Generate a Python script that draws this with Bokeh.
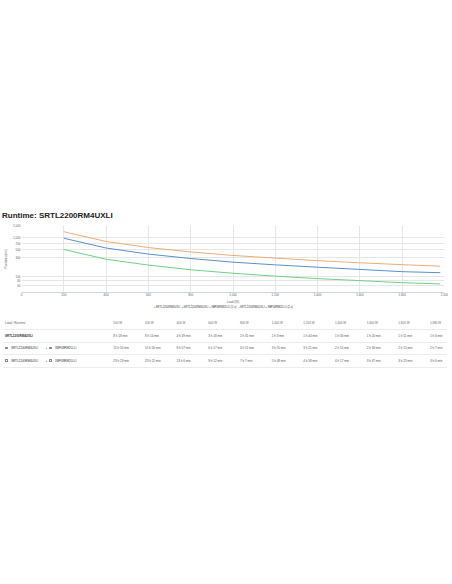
from bokeh.plotting import figure
from bokeh.layouts import column
from bokeh.models import (Range1d, FixedTicker, NumeralTickFormatter,
                          ColumnDataSource, Div)
from bokeh.embed import file_html
from bokeh.resources import INLINE

# ---------------- data ----------------
title_text = "Runtime: SRTL2200RM4UXLI"
loads = [100, 200, 400, 600, 800, 1000, 1200, 1400, 1600, 1800, 1980]
series_names = ["SRTL2200RM4UXLI",
                "SRTL2200RM4UXLI + XBP48RM2U-LI (1 x)",
                "SRTL2200RM4UXLI + XBP48RM2U-LI (2 x)"]
ups_name = "SRTL2200RM4UXLI"
battery_name = "XBP48RM2U-LI"
runtime_ups = [498, 494, 279, 198, 151, 123, 104, 90, 80, 71, 66]
runtime_1xbp = [950, 950, 537, 377, 291, 235, 201, 175, 154, 135, 127]
runtime_2xbp = [1403, 1392, 786, 552, 427, 348, 298, 257, 227, 203, 186]
colors = ["#6fd184", "#5b8fcc", "#f0aa78"]
y_ticks = [60, 80, 100, 300, 500, 700, 1000, 2000]
x_ticks = [0, 200, 400, 600, 800, 1000, 1200, 1400, 1600, 1800, 2000]
x_label = "Load (W)"
y_label = "Runtime (min)"
table_header = "Load / Runtime"

FONT = "Liberation Sans"
series = [runtime_ups, runtime_1xbp, runtime_2xbp]


def fmt_runtime(m):
    return f"{m // 60} h {m % 60} min"


def fmt_load(w):
    return f"{w:,} W"


W = 448
P_TOP, P_BOTTOM = 222, 306          # page rows occupied by the chart figure
F_LEFT, F_RIGHT, F_TOP, F_BOTTOM = 19, 444, 225, 293

# ---------------- title (HTML) ----------------
title_div = Div(
    text=(f'<div style="position:relative;width:{W}px;height:{P_TOP}px">'
          f'<span style="position:absolute;left:2px;top:{215.5 - 5:.1f}px;line-height:10px;'
          f'white-space:nowrap;font-family:\'{FONT}\';font-size:8px;font-weight:bold;'
          f'color:#222222">{title_text}</span></div>'),
    width=W, height=P_TOP, margin=0)

# ---------------- chart ----------------
p = figure(width=W, height=P_BOTTOM - P_TOP, x_range=Range1d(0, 2000),
           y_range=Range1d(40, 2000), y_axis_type="log", toolbar_location=None,
           output_backend="svg", min_border_left=F_LEFT,
           min_border_right=W - F_RIGHT, min_border_top=F_TOP - P_TOP,
           min_border_bottom=P_BOTTOM - F_BOTTOM, outline_line_color=None)

chart_loads = loads[1:]
for name, vals, col in zip(series_names, series, colors):
    src = ColumnDataSource(dict(x=chart_loads, y=vals[1:]))
    p.line("x", "y", source=src, line_color=col, line_width=1)

p.xaxis.ticker = FixedTicker(ticks=x_ticks)
p.yaxis.ticker = FixedTicker(ticks=y_ticks)
p.xaxis.formatter = NumeralTickFormatter(format="0,0")
p.yaxis.formatter = NumeralTickFormatter(format="0,0")
p.xgrid.ticker = FixedTicker(ticks=x_ticks)
p.ygrid.ticker = FixedTicker(ticks=y_ticks)
p.grid.grid_line_color = "#e6e6e6"
p.grid.grid_line_width = 1

for ax in (p.xaxis[0], p.yaxis[0]):
    ax.major_label_text_font = FONT
    ax.major_label_text_font_size = "3px"
    ax.major_label_text_color = "#666666"
    ax.axis_label_text_font = FONT
    ax.axis_label_text_font_size = "3px"
    ax.axis_label_text_font_style = "normal"
    ax.axis_label_text_color = "#666666"
    ax.major_tick_out = 0
    ax.major_tick_in = 0
    ax.minor_tick_out = 0
    ax.minor_tick_in = 0

p.xaxis.major_label_standoff = 0
p.xaxis.axis_label_standoff = 1
p.yaxis.major_label_standoff = 1
p.yaxis.axis_label_standoff = 2

p.xaxis.axis_label = x_label
p.yaxis.axis_label = y_label
p.xaxis.axis_line_color = "#ccd6eb"
p.yaxis.axis_line_color = None

# ---------------- legend + table (HTML) ----------------
TOP = P_BOTTOM
BOT = 372
legend_y = 307
header_y = 323
row_ys = [335.5, 348, 360.7]
sep_ys = [329, 341.5, 354, 366.5]
col_x = [113.3 + 31.67 * i for i in range(len(loads))]


def cell(x, cy, text, color="#555555", weight="normal"):
    return (f'<span style="position:absolute;left:{x:.1f}px;top:{cy - TOP - 2:.1f}px;'
            f'line-height:4px;white-space:nowrap;color:{color};font-weight:{weight}">'
            f'{text}</span>')


def icon(x, cy):
    return (f'<span style="position:absolute;left:{x:.1f}px;top:{cy - TOP - 1.5:.1f}px;'
            f'width:3px;height:2.5px;border:0.5px solid #888888;border-radius:0.5px"></span>')


parts = []
leg = "".join(
    f'<span style="color:{c};font-size:3px">&#9679;</span>&#8202;{n}&nbsp;&nbsp;'
    for n, c in zip(series_names, colors))
parts.append(f'<div style="position:absolute;left:0;width:{W}px;top:{legend_y - TOP - 1.5:.1f}px;'
             f'line-height:3px;text-align:center;white-space:nowrap;font-size:2.7px;'
             f'color:#333333">{leg}</div>')
for sy in sep_ys:
    parts.append(f'<div style="position:absolute;left:3px;width:444px;top:{sy - TOP:.1f}px;'
                 f'height:0;border-top:1px solid #ececec"></div>')
parts.append(cell(5, header_y, table_header, "#666666"))
for x, w in zip(col_x, loads):
    parts.append(cell(x, header_y, fmt_load(w), "#666666"))

parts.append(cell(5, row_ys[0], ups_name, "#333333", "bold"))
for ry in row_ys[1:]:
    parts.append(icon(5, ry))
    parts.append(cell(11, ry, ups_name, "#333333"))
    parts.append(cell(45.5, ry, "+", "#333333"))
    parts.append(icon(49, ry))
    parts.append(cell(55, ry, battery_name, "#333333"))
for vals, ry in zip(series, row_ys):
    for x, v in zip(col_x, vals):
        parts.append(cell(x, ry, fmt_runtime(v)))

html = (f'<div style="position:relative;width:{W}px;height:{BOT - TOP}px;'
        f'font-family:\'{FONT}\';font-size:3px">' + "".join(parts) + '</div>')
table = Div(text=html, width=W, height=BOT - TOP, margin=0)

layout = column(title_div, p, table, spacing=0)
open("out.html", "w").write(file_html(layout, INLINE))
